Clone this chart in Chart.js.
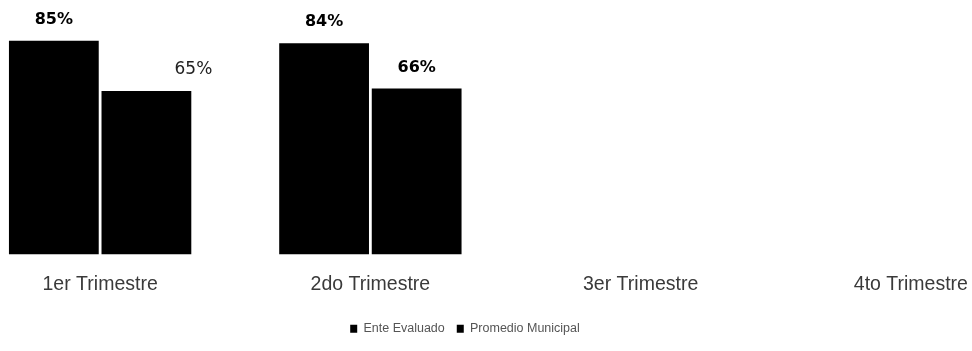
<!DOCTYPE html>
<html>
<head>
<meta charset="utf-8">
<script src="https://cdn.jsdelivr.net/npm/chart.js@4.4.1/dist/chart.umd.min.js"></script>
<style>
  html, body { margin: 0; padding: 0; background: #fff; overflow: hidden; }
  #wrap { position: absolute; left: -116px; top: 0; width: 1162px; height: 351px; }
</style>
</head>
<body>
<div id="wrap"><canvas id="bar-chart"></canvas></div>
<script>
var trimestres = ["1er Trimestre", "2do Trimestre", "3er Trimestre", "4to Trimestre"];
var enteEvaluado = [85, 84, null, null];
var promedioMunicipal = [65, 66, null, null];

// how each value label is written: [dataset][index]
var labelLook = [
  [{ bold: true, dx: 0 }, { bold: true, dx: 0 }],
  [{ bold: false, dx: 47 }, { bold: true, dx: 0 }]
];

var valueLabels = {
  id: 'valueLabels',
  afterDatasetsDraw: function(chart) {
    var ctx = chart.ctx;
    ctx.save();
    ctx.textAlign = 'center';
    ctx.textBaseline = 'middle';
    chart.data.datasets.forEach(function(ds, i) {
      chart.getDatasetMeta(i).data.forEach(function(bar, j) {
        if (ds.data[j] == null) return;
        var look = (labelLook[i] && labelLook[i][j]) || { bold: true, dx: 0 };
        ctx.font = (look.bold ? 'bold 16px' : '17px') + ' "DejaVu Sans"';
        ctx.fillStyle = look.bold ? '#000' : '#222';
        ctx.fillText(ds.data[j] + '%', bar.x + look.dx, bar.y - 21);
      });
    });
    ctx.restore();
  }
};

new Chart(document.getElementById("bar-chart"), {
  type: 'bar',
  data: {
    labels: trimestres,
    datasets: [
      {
        label: "Ente Evaluado",
        data: enteEvaluado,
        backgroundColor: "#000",
        barPercentage: 0.97,
        categoryPercentage: 0.685
      },
      {
        label: "Promedio Municipal",
        data: promedioMunicipal,
        backgroundColor: "#000",
        barPercentage: 0.97,
        categoryPercentage: 0.685
      }
    ]
  },
  plugins: [valueLabels],
  options: {
    responsive: true,
    maintainAspectRatio: false,
    animation: false,
    layout: { padding: { top: 3, bottom: 6 } },
    plugins: {
      legend: {
        position: 'bottom',
        labels: {
          boxWidth: 7,
          boxHeight: 8,
          padding: 12,
          color: '#555',
          font: { family: '"Liberation Sans"', size: 12.5 }
        }
      },
      tooltip: { enabled: false }
    },
    scales: {
      x: {
        grid: { display: false, drawTicks: false },
        border: { display: false },
        ticks: {
          padding: 18,
          color: '#3a3a3a',
          font: { family: '"Liberation Sans"', size: 19.5 }
        },
        afterFit: function(axis) { axis.height = 56; }
      },
      y: {
        min: 0,
        max: 100,
        grid: { display: false, drawTicks: false },
        border: { display: false },
        ticks: { display: false },
        afterFit: function(axis) { axis.width = 81; }
      }
    }
  }
});
</script>
</body>
</html>
